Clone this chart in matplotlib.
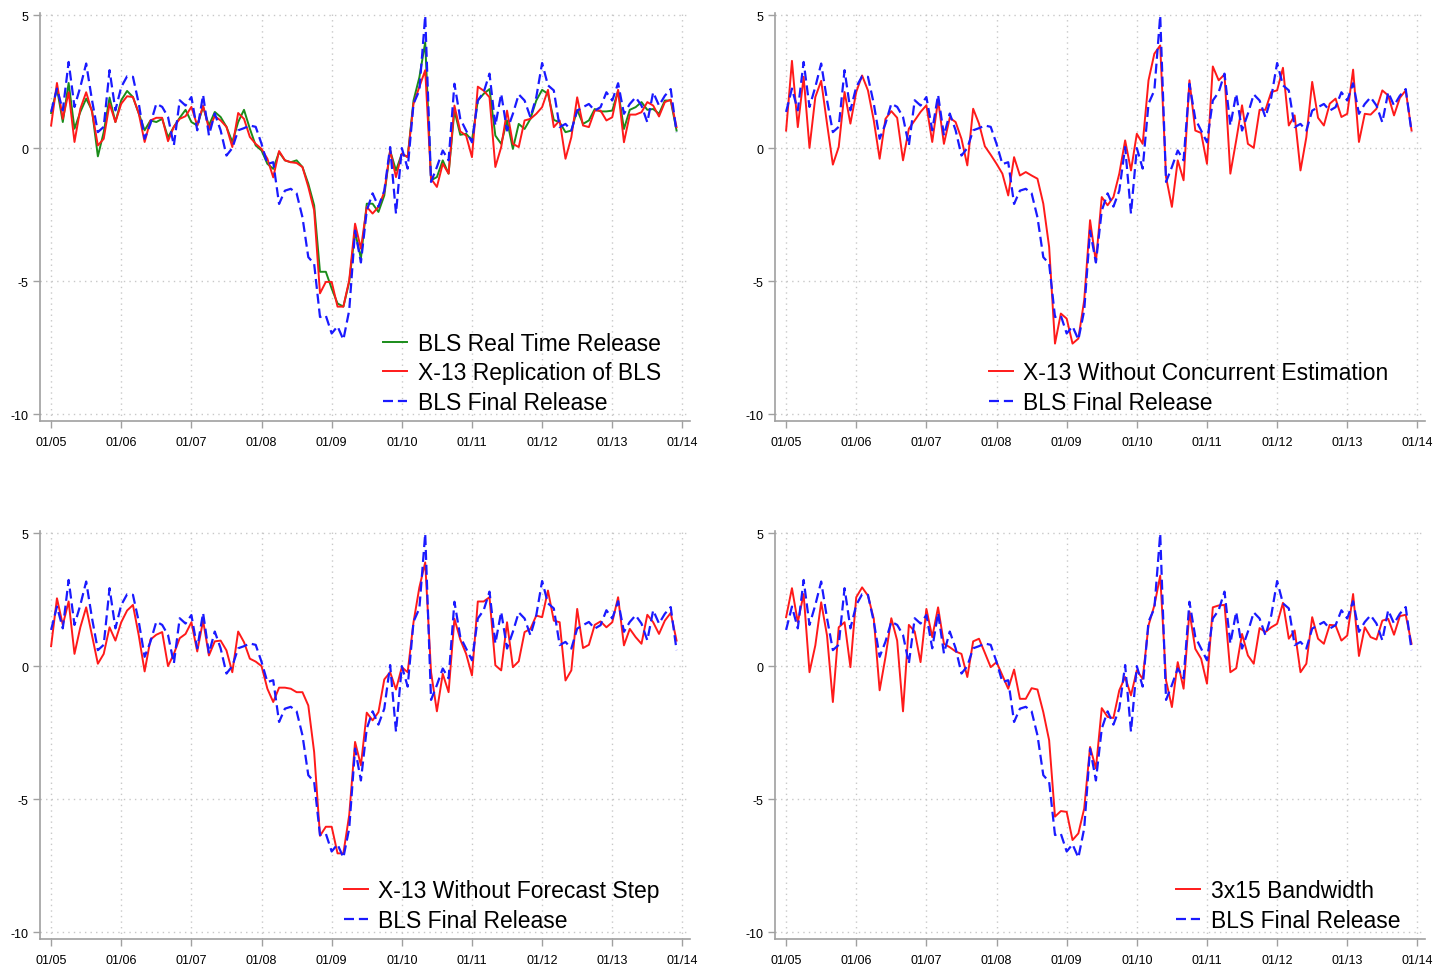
import matplotlib
matplotlib.use("Agg")
import matplotlib.pyplot as plt
import numpy as np

plt.rcParams['font.family'] = ['Liberation Sans', 'DejaVu Sans']

tick_labels = ["01/05", "01/06", "01/07", "01/08", "01/09", "01/10", "01/11", "01/12", "01/13", "01/14"]

bls_final = [
    1.36, 2.24, 1.42, 3.24, 1.55, 2.30, 3.18, 1.80, 0.60, 0.80,
    2.93, 1.42, 2.30, 2.70, 2.68, 1.67, 0.35, 0.92, 1.67, 1.55,
    1.17, 0.10, 1.80, 1.60, 1.92, 0.67, 2.00, 0.48, 1.30, 0.67,
    -0.28, 0.00, 0.67, 0.75, 0.85, 0.80, 0.16, -0.60, -0.53, -2.10,
    -1.60, -1.53, -1.70, -2.60, -4.10, -4.35, -6.35, -6.30, -6.97, -6.70,
    -7.20, -6.10, -3.10, -4.30, -2.35, -1.70, -2.20, -1.60, 0.04, -2.46,
    0.00, -0.77, 1.67, 2.17, 4.98, -1.27, -0.71, -0.09, -0.46, 2.42,
    1.10, 0.66, 0.22, 1.79, 2.10, 2.80, 0.85, 2.04, 0.66, 1.29,
    2.02, 1.79, 1.16, 1.91, 3.20, 2.36, 2.17, 0.79, 0.91, 0.66,
    1.41, 1.54, 1.66, 1.41, 1.54, 2.10, 1.79, 2.44, 1.29, 1.66,
    1.91, 1.60, 0.97, 2.10, 1.60, 1.97, 2.22, 0.60,
]

bls_realtime = [
    1.32, 2.24, 0.98, 2.45, 0.73, 1.36, 1.86, 1.42, -0.31, 0.60,
    1.90, 0.98, 1.80, 2.15, 1.92, 1.30, 0.67, 1.04, 0.98, 1.10,
    0.41, 0.80, 1.14, 1.44, 0.98, 0.85, 1.55, 0.85, 1.36, 1.17,
    0.80, 0.23, 0.98, 1.44, 0.73, 0.10, -0.09, -0.59, -0.78, -0.15,
    -0.46, -0.53, -0.46, -0.71, -1.34, -2.15, -4.65, -4.65, -5.28, -5.84,
    -5.96, -5.03, -3.15, -4.15, -2.09, -2.09, -2.40, -1.78, -0.09, -0.84,
    -0.21, -0.34, 1.79, 2.66, 3.98, -1.21, -1.09, -0.46, -0.96, 1.41,
    0.50, 0.54, 0.29, 1.79, 2.04, 2.22, 0.47, 0.16, 1.04, -0.03,
    0.91, 0.72, 1.10, 1.79, 2.19, 2.04, 1.06, 0.97, 0.60, 0.66,
    1.44, 0.91, 1.04, 1.47, 1.38, 1.38, 1.41, 2.16, 0.72, 1.44,
    1.54, 1.73, 1.44, 1.47, 1.29, 1.79, 1.79, 0.66,
]

x13_replication = [
    0.85, 2.45, 1.10, 2.10, 0.23, 1.48, 2.10, 1.36, 0.10, 0.35,
    1.67, 0.98, 1.67, 1.95, 1.92, 1.30, 0.23, 1.04, 1.14, 1.14,
    0.26, 0.80, 1.10, 1.20, 1.55, 0.85, 1.60, 0.73, 1.20, 1.04,
    0.80, 0.04, 1.32, 1.10, 0.42, 0.16, -0.03, -0.40, -1.10, -0.11,
    -0.46, -0.53, -0.56, -0.71, -1.46, -2.34, -5.46, -5.03, -5.03, -5.96,
    -5.96, -4.97, -2.84, -3.78, -2.21, -2.46, -2.21, -1.65, -0.09, -1.09,
    -0.21, -0.34, 1.67, 2.30, 2.93, -1.15, -1.46, -0.59, -0.96, 1.60,
    0.63, 0.47, -0.34, 2.31, 2.16, 1.91, -0.71, 0.04, 1.41, 0.16,
    0.04, 1.04, 1.10, 1.29, 1.54, 2.19, 0.79, 1.04, -0.40, 0.41,
    1.91, 0.85, 0.79, 1.41, 1.41, 1.04, 1.16, 2.19, 0.22, 1.26,
    1.26, 1.35, 1.73, 1.60, 1.19, 1.73, 1.82, 0.79,
]

x13_no_concurrent = [
    0.66, 3.28, 0.79, 2.68, 0.01, 1.92, 2.53, 0.92, -0.62, 0.04,
    2.11, 0.92, 2.11, 2.73, 2.17, 1.04, -0.40, 1.10, 1.39, 1.14,
    -0.46, 0.73, 1.04, 1.36, 1.61, 0.23, 1.80, 0.16, 1.14, 0.98,
    0.35, -0.65, 1.48, 0.92, 0.07, -0.25, -0.59, -0.96, -1.78, -0.34,
    -1.03, -0.90, -1.03, -1.15, -2.09, -3.72, -7.35, -6.22, -6.41, -7.35,
    -7.16, -5.72, -2.71, -4.28, -1.84, -2.15, -1.84, -0.96, 0.29, -0.84,
    0.54, 0.16, 2.55, 3.55, 3.86, -1.09, -2.21, -0.46, -1.21, 2.55,
    0.66, 0.57, -0.59, 3.07, 2.55, 2.77, -0.96, 0.29, 1.61, 0.16,
    0.01, 1.44, 1.44, 2.11, 2.17, 3.02, 0.85, 1.23, -0.84, 0.41,
    2.49, 1.14, 0.85, 1.67, 1.86, 1.17, 1.29, 2.95, 0.23, 1.29,
    1.26, 1.48, 2.17, 1.98, 1.23, 1.89, 2.17, 0.66,
]

x13_no_forecast = [
    0.75, 2.55, 1.55, 2.43, 0.46, 1.46, 2.21, 1.15, 0.09, 0.46,
    1.46, 0.96, 1.65, 2.09, 2.30, 1.15, -0.20, 1.00, 1.18, 1.28,
    0.00, 0.46, 1.05, 1.21, 1.65, 0.55, 1.71, 0.40, 0.93, 0.96,
    0.59, -0.23, 1.30, 0.90, 0.28, 0.17, 0.00, -0.85, -1.35, -0.81,
    -0.81, -0.85, -0.98, -0.98, -1.48, -3.23, -6.38, -6.04, -6.04, -7.04,
    -7.04, -5.60, -2.85, -3.73, -1.75, -2.04, -1.73, -0.50, -0.23, -0.88,
    -0.04, -0.23, 1.65, 2.96, 3.90, -0.23, -1.70, -0.29, -0.98, 1.78,
    1.00, 0.46, -0.35, 2.43, 2.43, 2.59, 0.03, -0.16, 1.65, -0.04,
    0.18, 1.28, 1.40, 1.90, 1.84, 2.84, 1.71, 1.65, -0.54, -0.16,
    2.15, 0.68, 0.80, 1.55, 1.68, 1.46, 1.65, 2.59, 0.78, 1.40,
    1.09, 0.84, 1.93, 1.65, 1.21, 1.71, 2.00, 0.96,
]

bandwidth_3x15 = [
    1.84, 2.93, 1.65, 2.71, -0.23, 0.78, 2.40, 1.15, -1.35, 1.46,
    1.65, -0.04, 2.59, 2.96, 2.65, 1.78, -0.91, 0.34, 1.80, 0.96,
    -1.70, 1.55, 1.30, 0.15, 2.15, 1.09, 2.21, 0.84, 0.71, 0.55,
    0.46, -0.41, 0.93, 1.03, 0.50, -0.04, 0.15, -0.35, -0.85, -0.13,
    -1.23, -1.23, -0.83, -0.88, -1.73, -2.79, -5.66, -5.45, -5.48, -6.54,
    -6.29, -5.35, -3.04, -3.85, -1.58, -1.91, -1.95, -0.91, -0.41, -1.10,
    -0.16, -0.48, 1.53, 2.28, 3.40, -0.54, -1.54, 0.15, -0.85, 2.05,
    0.65, 0.28, -0.66, 2.21, 2.28, 2.30, -0.23, -0.08, 1.21, 0.40,
    0.09, 1.43, 1.28, 1.46, 1.59, 2.38, 1.03, 1.34, -0.23, 0.09,
    1.84, 1.03, 0.84, 1.55, 1.53, 0.96, 1.15, 2.71, 0.38, 1.46,
    1.09, 1.00, 1.71, 1.78, 1.18, 1.88, 1.93, 0.84,
]

months = np.arange(len(bls_final))
tick_pos = np.arange(0, 12 * len(tick_labels), 12)

W, H = 1447, 979
fig = plt.figure(figsize=(W / 100, H / 100), dpi=100)

def make_ax(left, top, right, bottom):
    return fig.add_axes([left / W, 1 - bottom / H, (right - left) / W, (bottom - top) / H])

RED = '#ff1a1a'
BLUE = '#1a1aff'
GREEN = '#1a8c1a'
GRID = '#c8c8c8'
AX = '#a0a0a0'

def style(ax):
    ax.set_xlim(-1.9, 109.3)
    ax.set_ylim(-10.26, 5.08)
    ax.set_xticks(tick_pos)
    ax.set_xticklabels(tick_labels)
    ax.set_yticks([5, 0, -5, -10])
    ax.set_yticklabels(['5', '0', '-5', '-10'])
    for s in ['top', 'right']:
        ax.spines[s].set_visible(False)
    for s in ['left', 'bottom']:
        ax.spines[s].set_color(AX)
        ax.spines[s].set_linewidth(1.2)
    ax.tick_params(axis='both', colors=AX, labelcolor='black', labelsize=9, length=5, width=1.0)
    ax.tick_params(axis='x', pad=6)
    ax.grid(True, color=GRID, linestyle=(0, (1, 3)), linewidth=1.0)
    ax.set_axisbelow(True)

def blue_line(ax):
    ax.plot(months, bls_final, color=BLUE, lw=1.6, linestyle=(0, (4.5, 2.2)), label='BLS Final Release')

panels = [
    (40, 14, 690, 422),
    (775, 14, 1425, 422),
    (40, 532, 690, 940),
    (775, 532, 1425, 940),
]

leg_kw = dict(frameon=False, fontsize=16.5, handlelength=1.05, handletextpad=0.45,
              labelspacing=0.29, borderaxespad=0.0, loc='lower right')

ax1 = make_ax(*panels[0]); style(ax1)
ax1.plot(months, bls_realtime, color=GREEN, lw=1.4, label='BLS Real Time Release')
ax1.plot(months, x13_replication, color=RED, lw=1.4, label='X-13 Replication of BLS')
blue_line(ax1)
ax1.legend(bbox_to_anchor=(0.969, -0.005), **leg_kw)

ax2 = make_ax(*panels[1]); style(ax2)
ax2.plot(months, x13_no_concurrent, color=RED, lw=1.4, label='X-13 Without Concurrent Estimation')
blue_line(ax2)
ax2.legend(bbox_to_anchor=(0.958, -0.005), **leg_kw)

ax3 = make_ax(*panels[2]); style(ax3)
ax3.plot(months, x13_no_forecast, color=RED, lw=1.4, label='X-13 Without Forecast Step')
blue_line(ax3)
ax3.legend(bbox_to_anchor=(0.967, -0.005), **leg_kw)

ax4 = make_ax(*panels[3]); style(ax4)
ax4.plot(months, bandwidth_3x15, color=RED, lw=1.4, label='3x15 Bandwidth')
blue_line(ax4)
ax4.legend(bbox_to_anchor=(0.976, -0.005), **leg_kw)

fig.savefig('out.png', dpi=100)
